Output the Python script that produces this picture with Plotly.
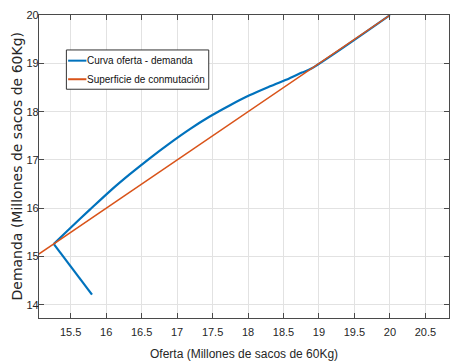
import plotly.graph_objects as go

# Curva oferta - demanda (trayectoria del sistema)
oferta_curva = [15.80, 15.26, 15.48, 15.77, 16.05, 16.33, 16.61, 16.89, 17.18,
                17.46, 17.74, 18.02, 18.30, 18.58, 18.76, 18.90, 20.00]
demanda_curva = [14.21, 15.26, 15.57, 15.97, 16.35, 16.70, 17.03, 17.34, 17.64,
                 17.90, 18.13, 18.34, 18.52, 18.69, 18.81, 18.90, 20.00]

# Superficie de conmutación (recta oferta = demanda)
oferta_sup = [15.05, 20.00]
demanda_sup = [15.05, 20.00]

x_ticks = [15.5, 16, 16.5, 17, 17.5, 18, 18.5, 19, 19.5, 20, 20.5]
y_ticks = [14, 15, 16, 17, 18, 19, 20]

series_names = ["Curva oferta - demanda", "Superficie de conmutación"]
series_colors = ["#0072BD", "#D95319"]

SANS = "Liberation Sans, Arial, sans-serif"
AXIS_COLOR = "#4a4a4a"
TEXT_COLOR = "#262626"

# The trajectory has a sharp corner at the second point: the approach
# segment is straight, the sliding part is drawn as a smooth curve.
KNEE = 1

fig = go.Figure()
fig.add_trace(go.Scatter(
    x=oferta_curva[:KNEE + 1], y=demanda_curva[:KNEE + 1], mode="lines",
    name=series_names[0], legendgroup="curva",
    line=dict(color=series_colors[0], width=2.2),
))
fig.add_trace(go.Scatter(
    x=oferta_curva[KNEE:], y=demanda_curva[KNEE:], mode="lines",
    name=series_names[0], legendgroup="curva",
    line=dict(color=series_colors[0], width=2.2, shape="spline", smoothing=0.8),
))
fig.add_trace(go.Scatter(
    x=oferta_sup, y=demanda_sup, mode="lines", name=series_names[1],
    line=dict(color=series_colors[1], width=1.4),
))

axis_common = dict(
    showline=True, linecolor=AXIS_COLOR, linewidth=1.3, mirror="ticks",
    ticks="inside", ticklen=5, tickcolor=AXIS_COLOR, tickwidth=1,
    showgrid=True, gridcolor="#e2e2e2", gridwidth=1, zeroline=False,
    tickfont=dict(family=SANS, size=11, color=TEXT_COLOR),
)

fig.update_xaxes(range=[15.053, 20.833], tickvals=x_ticks,
                 ticktext=[f"{v:g}" for v in x_ticks],
                 ticklabelstandoff=4, **axis_common)
fig.update_yaxes(range=[13.725, 20.004], tickvals=y_ticks,
                 ticklabelstandoff=-3, **axis_common)

fig.add_annotation(
    text="Oferta (Millones de sacos de 60Kg)", xref="paper", yref="paper",
    x=0.5, y=0, yshift=-36, showarrow=False, yanchor="middle",
    font=dict(family=SANS, size=12, color=TEXT_COLOR),
)
fig.add_annotation(
    text="Demanda (Millones de sacos de 60Kg)", xref="paper", yref="paper",
    x=0, y=0.5, xshift=-23, showarrow=False, textangle=-90, xanchor="center",
    font=dict(family="DejaVu Sans, sans-serif", size=14, color=TEXT_COLOR),
)

# Leyenda dibujada en coordenadas del área de trazado
fig.add_shape(type="rect", xref="paper", yref="paper",
              x0=0.0668, x1=0.414, y0=0.755, y1=0.8846,
              line=dict(color="#333333", width=1), fillcolor="white", layer="above")
legend_rows = [0.8493, 0.788]
for name, color, ypos in zip(series_names, series_colors, legend_rows):
    fig.add_shape(type="line", xref="paper", yref="paper",
                  x0=0.071, x1=0.1156, y0=ypos, y1=ypos,
                  line=dict(color=color, width=2), layer="above")
    fig.add_annotation(text=name, xref="paper", yref="paper",
                       x=0.1156, y=ypos, xanchor="left", yanchor="middle",
                       showarrow=False, borderpad=0,
                       font=dict(family=SANS, size=10, color="#111111"))

fig.update_layout(
    width=453, height=364,
    margin=dict(l=39, r=4, t=15, b=46),
    paper_bgcolor="white", plot_bgcolor="white",
    showlegend=False,
)

fig.write_html("out.html")
